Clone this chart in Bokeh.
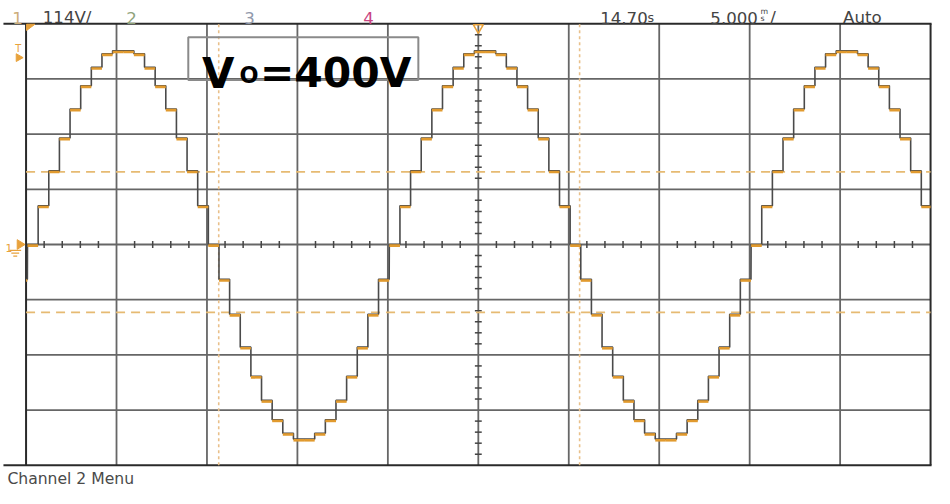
import numpy as np
from bokeh.plotting import figure
from bokeh.models import Range1d
from bokeh.embed import file_html
from bokeh.resources import INLINE
from bokeh.core.properties import value

# ---------------- data ----------------
volts_per_div = 114.0      # channel 1: 114 V/div
ms_per_div = 5.0           # timebase 5.000 ms/div
h_divs = 10
v_divs = 8
minor_per_div = 5

# one period of the multilevel staircase (V), each level held for one slot
step_levels_v = [0, 80, 152, 220, 280, 328, 366, 394, 400, 400, 394, 366, 328, 280, 220, 152, 80,
                 0, -72, -144, -212, -272, -322, -362, -390, -402, -402, -390, -362, -322, -272, -212, -144, -72]
step_ms = 0.588
cycle_start_ms = [-19.92, 0.08, 20.08, 40.08]

cursor_v = [150, -140]      # dashed horizontal cursors
cursor_ms = [10.65, 30.6]   # dashed vertical cursors

header_labels = ["1", "114V/", "2", "3", "4", "14.70", "5.000", "/", "Auto"]
box_label = ["V", "O", "=400V"]
menu_label = "Channel 2 Menu"

# ---------------- layout helpers (reference pixel -> data) ----------------
W, H = 934, 488
REF_W, REF_H = 950, 504
PX_PER_MS = 18.4           # 92 px per 5 ms division in the reference
X0 = 26.0                  # reference x of t = 0
YC = 252.0                 # reference y of 0 V
PX_PER_V = 0.5             # 57 px per 114 V division
FS = 0.975                 # font scale for the slightly smaller canvas


def dx(X):
    return (X - X0) / PX_PER_MS


def dy(Y):
    return (YC - Y) / PX_PER_V


def fpx(s):
    return "%.1fpx" % (s * FS)


t_end = h_divs * ms_per_div
v_top = v_divs / 2 * volts_per_div

p = figure(width=W, height=H, output_backend="svg", toolbar_location=None,
           x_range=Range1d(dx(0), dx(REF_W)), y_range=Range1d(dy(REF_H), dy(0)),
           x_axis_type=None, y_axis_type=None, min_border=0,
           background_fill_color="white", border_fill_color="white")
p.outline_line_color = None
p.grid.visible = False

grid_col = "#666666"
# vertical grid lines
gx = [k * ms_per_div for k in range(1, h_divs)]
p.segment(x0=gx, x1=gx, y0=[-v_top] * len(gx), y1=[v_top] * len(gx),
          line_color=grid_col, line_width=1.8)
# horizontal grid lines
gy = [(k - v_divs / 2) * volts_per_div for k in range(1, v_divs)]
p.segment(x0=[0] * len(gy), x1=[t_end] * len(gy), y0=gy, y1=gy,
          line_color=grid_col, line_width=1.8)

# minor ticks on centre lines
mt = [k * ms_per_div / minor_per_div for k in range(1, h_divs * minor_per_div) if k % minor_per_div]
p.segment(x0=mt, x1=mt, y0=[-7] * len(mt), y1=[7] * len(mt), line_color="#444444", line_width=1.5)
mv = [(k - v_divs * minor_per_div / 2) * volts_per_div / minor_per_div
      for k in range(1, v_divs * minor_per_div) if k % minor_per_div]
tc = t_end / 2
p.segment(x0=[tc - 0.19] * len(mv), x1=[tc + 0.19] * len(mv), y0=mv, y1=mv,
          line_color="#444444", line_width=1.5)

# screen border
p.segment(x0=[dx(3), dx(3)], x1=[dx(947), dx(947)], y0=[v_top, -v_top], y1=[v_top, -v_top],
          line_color="#2a2a2a", line_width=2)
p.segment(x0=[0, t_end], x1=[0, t_end], y0=[-v_top, -v_top], y1=[v_top, v_top],
          line_color="#2a2a2a", line_width=2)

# cursors
p.segment(x0=cursor_ms, x1=cursor_ms, y0=[-v_top] * 2, y1=[v_top] * 2,
          line_color="#E9C08A", line_width=1.6, line_dash="3 3")
p.segment(x0=[0] * 2, x1=[t_end] * 2, y0=cursor_v, y1=cursor_v,
          line_color="#E6BA72", line_width=1.7, line_dash="9 6")

# staircase trace
xs, ys, sx0, sx1, sy = [], [], [], [], []
for c in cycle_start_ms:
    for i, lv in enumerate(step_levels_v):
        a = max(c + i * step_ms, 0.0)
        b = min(c + (i + 1) * step_ms, t_end)
        if b <= a:
            continue
        xs += [a, b]
        ys += [lv, lv]
        sx0.append(a)
        sx1.append(b)
        sy.append(lv - 2.4)
p.line(xs, ys, line_color="#4a4a4a", line_width=1.6)
p.segment(x0=sx0, x1=sx1, y0=sy, y1=sy, line_color="#E19A2E", line_width=2.6)

# markers (orange)
orange = "#E8A23C"
p.patch(x=[dx(26.5), dx(35), dx(26.5)], y=[dy(24.5), dy(24.5), dy(31)], fill_color=orange, line_color=orange)
p.patch(x=[dx(16), dx(23), dx(16)], y=[dy(55), dy(59), dy(63)], fill_color=orange, line_color=orange)
p.text(x=[dx(15)], y=[dy(50)], text=["T"], text_font=value("DejaVu Sans"), text_font_size=fpx(10),
       text_color=orange, text_baseline="alphabetic")
p.patch(x=[dx(17), dx(25), dx(17)], y=[dy(247), dy(252), dy(257)], fill_color=orange, line_color=orange)
p.text(x=[dx(5)], y=[dy(256)], text=["1"], text_font=value("DejaVu Sans"), text_font_size=fpx(11),
       text_color=orange, text_baseline="alphabetic")
p.segment(x0=[dx(9), dx(11), dx(13)], x1=[dx(21), dx(19), dx(17)],
          y0=[dy(258), dy(261), dy(264)], y1=[dy(258), dy(261), dy(264)], line_color=orange, line_width=1.3)
p.scatter(x=[tc], y=[dy(28)], marker="inverted_triangle", size=10, fill_color=None,
          line_color=orange, line_width=1.6)

# label box
p.quad(left=[dx(191)], right=[dx(425)], top=[dy(38)], bottom=[dy(82)],
       fill_color=None, line_color="#8a8a8a", line_width=2)
bold = dict(text_font=value("DejaVu Sans"), text_font_style="bold", text_color="#000000",
            text_baseline="alphabetic")
p.text(x=[dx(205)], y=[dy(75)], text=[box_label[0]], text_font_size=fpx(43), **bold)
p.text(x=[dx(243)], y=[dy(77)], text=[box_label[1]], text_font_size=fpx(23), **bold)
p.text(x=[dx(264)], y=[dy(75)], text=[box_label[2]], text_font_size=fpx(42), **bold)

# header
hdr = dict(text_font=value("DejaVu Sans"), text_baseline="alphabetic")
hdr_x = [12, 43, 128, 248, 369, 610, 722, 783, 857]
hdr_c = ["#CDAE7A", "#444444", "#8FA37C", "#9199AB", "#C94582", "#444444", "#444444", "#444444", "#444444"]
p.text(x=[dx(v) for v in hdr_x], y=[dy(18)] * len(hdr_x), text=header_labels,
       text_color=hdr_c, text_font_size=fpx(17), **hdr)
p.text(x=[dx(658)], y=[dy(18)], text=["s"], text_color="#444444", text_font_size=fpx(13), **hdr)
p.text(x=[dx(773), dx(773)], y=[dy(11), dy(18.5)], text=["m", "s"], text_color="#444444",
       text_font_size=fpx(8), **hdr)

# footer
p.text(x=[dx(7)], y=[dy(494)], text=[menu_label], text_color="#4a4a4a", text_font_size=fpx(16), **hdr)

open("out.html", "w").write(file_html(p, INLINE))
